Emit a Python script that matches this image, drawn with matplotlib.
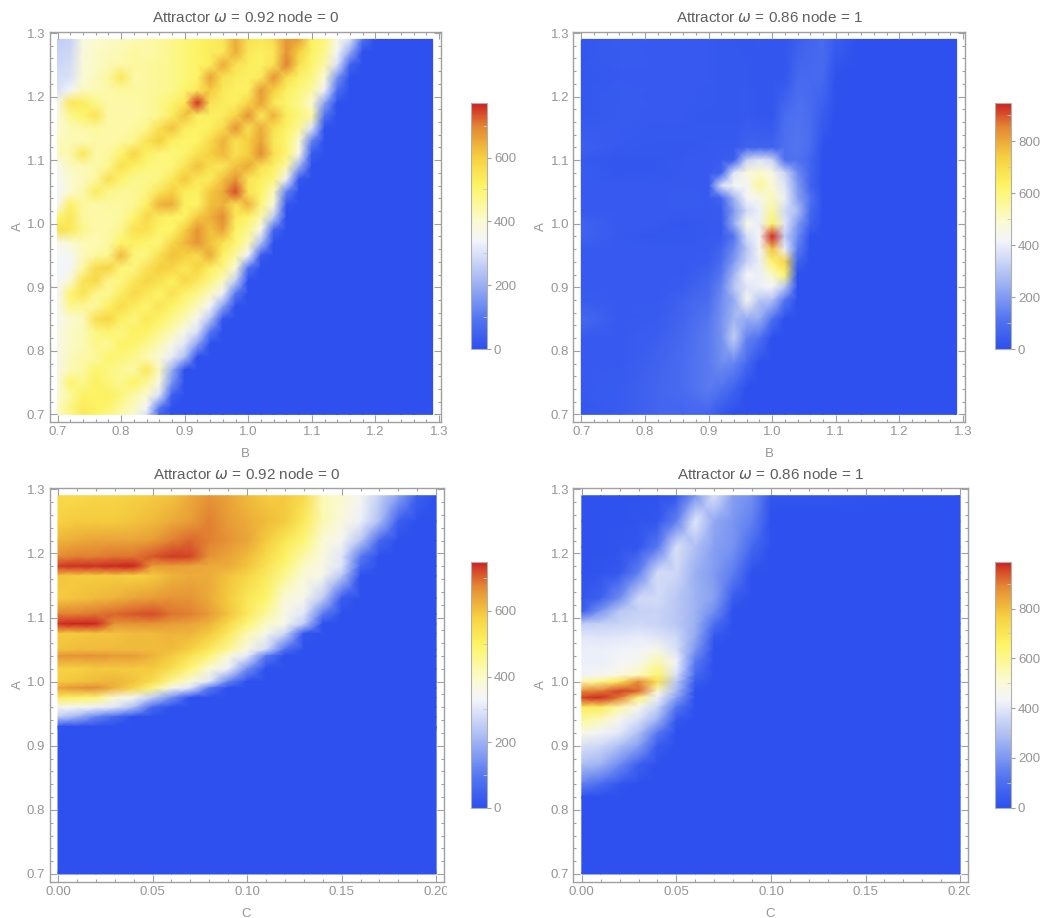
import numpy as np
import matplotlib
matplotlib.use('Agg')
import matplotlib.pyplot as plt
from matplotlib.colors import LinearSegmentedColormap
from matplotlib.patches import Rectangle
from matplotlib.ticker import MultipleLocator, FormatStrFormatter

plt.rcParams['font.family'] = ['Liberation Sans', 'DejaVu Sans']
plt.rcParams['mathtext.fontset'] = 'dejavusans'

# Columns and rows of the four maps (rows go from the top down)
b_top_left = [.70, .72, .74, .76, .78, .80, .82, .84, .86, .88, .90, .92, .94, .96, .98, 1.00, 1.02, 1.04, 1.06, 1.08,
              1.10, 1.12, 1.14, 1.16, 1.18, 1.20, 1.22, 1.24, 1.26, 1.29]
a_top_left = [1.29, 1.27, 1.25, 1.23, 1.21, 1.19, 1.17, 1.15, 1.13, 1.11, 1.09, 1.07, 1.05, 1.03, 1.01, .99, .97, .95,
              .93, .91, .89, .87, .85, .83, .81, .79, .77, .75, .73, .71, .70]
z_top_left = [
    [260, 270, 380, 400, 410, 420, 430, 440, 450, 470, 490, 510, 530, 540, 650, 560, 540, 570, 680, 660, 520, 490, 380, 300, 90],
    [270, 280, 380, 410, 420, 430, 450, 440, 450, 470, 490, 510, 530, 540, 650, 540, 520, 540, 680, 600, 510, 470, 340, 190],
    [280, 290, 390, 410, 430, 440, 450, 450, 460, 470, 490, 510, 530, 650, 560, 530, 520, 560, 700, 560, 500, 440, 300, 50],
    [290, 300, 390, 420, 450, 540, 440, 450, 460, 470, 490, 510, 660, 560, 530, 520, 540, 680, 570, 510, 480, 400, 150],
    [300, 340, 420, 430, 440, 450, 450, 450, 460, 470, 500, 540, 610, 540, 520, 520, 670, 600, 520, 490, 450, 330, 80],
    [360, 540, 530, 470, 440, 440, 440, 450, 470, 500, 540, 760, 560, 530, 520, 590, 660, 540, 500, 470, 400, 180],
    [380, 470, 500, 550, 440, 440, 440, 450, 470, 530, 620, 530, 520, 530, 590, 680, 540, 640, 530, 490, 450, 90],
    [400, 430, 440, 450, 440, 440, 450, 470, 560, 620, 530, 510, 520, 570, 680, 560, 650, 560, 510, 460, 300],
    [420, 430, 430, 440, 440, 450, 470, 550, 600, 520, 500, 510, 570, 640, 560, 600, 660, 540, 500, 400, 120],
    [420, 440, 540, 440, 450, 500, 590, 520, 490, 490, 500, 560, 600, 630, 560, 600, 690, 560, 500, 370, 30],
    [360, 420, 430, 440, 470, 560, 520, 490, 480, 490, 550, 620, 560, 540, 620, 650, 560, 520, 440, 200],
    [350, 400, 420, 450, 560, 500, 470, 470, 480, 540, 610, 540, 530, 620, 680, 550, 520, 490, 330, 20],
    [340, 400, 440, 530, 470, 460, 460, 480, 550, 600, 530, 520, 610, 650, 740, 550, 510, 420, 120],
    [350, 520, 450, 440, 450, 450, 460, 520, 640, 650, 520, 510, 620, 640, 560, 640, 490, 380, 20],
    [500, 540, 450, 440, 440, 450, 500, 580, 530, 510, 510, 610, 640, 690, 540, 510, 440, 250],
    [560, 540, 470, 440, 440, 470, 560, 560, 510, 500, 600, 680, 620, 660, 510, 470, 360, 60],
    [360, 400, 430, 430, 450, 500, 520, 500, 490, 580, 630, 680, 620, 560, 500, 430, 230],
    [340, 350, 420, 450, 470, 630, 490, 480, 560, 620, 600, 570, 650, 520, 450, 330, 30],
    [340, 340, 450, 570, 590, 490, 480, 550, 600, 590, 540, 590, 520, 480, 390, 90],
    [340, 400, 550, 580, 470, 480, 540, 590, 560, 520, 580, 540, 480, 420, 260],
    [340, 500, 550, 470, 460, 530, 580, 540, 510, 560, 510, 470, 420, 330, 100],
    [350, 470, 460, 450, 520, 570, 530, 500, 550, 510, 470, 420, 340, 180],
    [360, 400, 420, 560, 590, 520, 490, 540, 510, 470, 430, 350, 240, 20],
    [370, 410, 430, 480, 500, 480, 520, 510, 470, 430, 360, 300, 100],
    [370, 410, 430, 470, 460, 510, 500, 470, 430, 370, 310, 170],
    [370, 420, 440, 450, 500, 490, 470, 430, 390, 320, 230],
    [370, 430, 450, 500, 480, 460, 440, 540, 420, 200],
    [380, 500, 470, 520, 490, 470, 510, 460, 380, 150],
    [400, 450, 520, 510, 520, 490, 440, 400, 300, 40],
    [410, 480, 530, 520, 500, 450, 420, 340, 100],
    [410, 470, 540, 510, 480, 440, 400, 300, 60],
]

b_top_right = [.70, .76, .82, .86, .90, .92, .94, .96, .98, 1.00, 1.02, 1.04, 1.06, 1.08, 1.10, 1.14, 1.29]
a_top_right = [1.29, 1.23, 1.17, 1.12, 1.10, 1.08, 1.06, 1.04, 1.02, 1.00, .98, .96, .94, .92, .90, .88, .85, .82, .78, .74, .70]
z_top_right = [
    [20, 40, 30, 30, 30, 25, 25, 20, 25, 20, 20, 50, 70, 90, 40],
    [25, 30, 30, 30, 30, 25, 25, 25, 20, 20, 20, 80, 80, 80, 10],
    [25, 35, 30, 30, 25, 25, 25, 30, 20, 20, 90, 110, 90, 40],
    [50, 30, 25, 25, 30, 30, 30, 60, 60, 60, 100, 120, 90, 10],
    [30, 20, 20, 30, 30, 40, 50, 330, 380, 340, 100, 110, 70],
    [40, 20, 25, 30, 30, 60, 380, 470, 500, 450, 340, 170, 70],
    [30, 30, 30, 30, 30, 360, 430, 420, 560, 480, 380, 200, 60],
    [30, 30, 30, 40, 30, 70, 260, 420, 450, 520, 400, 220, 110],
    [30, 30, 30, 30, 30, 40, 200, 350, 400, 560, 350, 280, 80],
    [60, 30, 30, 20, 30, 30, 240, 450, 400, 620, 380, 200, 60],
    [60, 30, 25, 25, 30, 30, 120, 360, 420, 948, 320, 170],
    [30, 30, 30, 30, 30, 70, 160, 300, 420, 760, 400, 130],
    [30, 30, 30, 30, 40, 90, 200, 330, 400, 620, 720, 60],
    [30, 30, 30, 30, 60, 120, 260, 420, 400, 500, 620],
    [30, 30, 30, 40, 80, 150, 300, 380, 400, 420, 300],
    [40, 30, 30, 60, 90, 170, 240, 440, 300, 290, 120],
    [80, 30, 40, 70, 120, 180, 260, 240, 240, 100],
    [30, 30, 50, 80, 130, 180, 320, 150, 100],
    [30, 30, 60, 90, 130, 170, 150, 80],
    [30, 40, 70, 90, 130, 110, 60],
    [20, 40, 70, 70, 70, 20],
]

c_bottom_left = [0, .01, .02, .03, .04, .05, .06, .07, .08, .09, .10, .11, .12, .13, .14, .15, .16, .17, .18, .19, .20]
a_bottom_left = [1.29, 1.25, 1.22, 1.195, 1.18, 1.165, 1.13, 1.105, 1.09, 1.075, 1.05, 1.04, 1.02, 1.00, .99, .975, .96, .945, .93, .70]
z_bottom_left = [
    [560, 560, 570, 570, 580, 590, 600, 630, 660, 640, 610, 590, 590, 560, 420, 390, 340, 260, 170, 40],
    [580, 590, 590, 590, 600, 610, 630, 650, 680, 650, 630, 610, 590, 520, 420, 370, 320, 220, 40],
    [620, 630, 640, 640, 640, 650, 680, 700, 680, 660, 640, 590, 530, 480, 380, 340, 240, 60],
    [670, 680, 680, 690, 690, 710, 730, 725, 660, 640, 610, 560, 500, 430, 370, 300, 100],
    [730, 740, 740, 745, 750, 650, 650, 640, 630, 630, 600, 540, 480, 400, 360, 300, 60],
    [600, 590, 590, 590, 580, 590, 620, 630, 630, 600, 570, 520, 450, 380, 350, 240],
    [590, 600, 610, 620, 640, 650, 660, 660, 630, 590, 530, 490, 380, 350, 250, 30],
    [680, 680, 690, 700, 710, 720, 690, 680, 650, 600, 520, 440, 360, 300, 100],
    [740, 750, 745, 660, 660, 660, 650, 640, 620, 560, 480, 400, 350, 250],
    [590, 590, 600, 600, 610, 610, 620, 620, 590, 520, 420, 350, 270, 20],
    [600, 610, 610, 610, 610, 610, 610, 580, 520, 450, 360, 280, 80],
    [660, 660, 660, 650, 650, 620, 590, 540, 480, 370, 310, 100],
    [580, 580, 590, 590, 590, 590, 550, 480, 380, 320, 140],
    [590, 600, 610, 620, 600, 550, 450, 370, 300, 120],
    [640, 660, 670, 620, 570, 470, 350, 300, 100],
    [520, 500, 480, 380, 340, 250, 140],
    [340, 340, 320, 300, 220, 60],
    [250, 200, 120, 60],
    [0],
    [0],
]

c_bottom_right = [0, .01, .02, .03, .04, .05, .06, .07, .08, .09, .10, .20]
a_bottom_right = [1.29, 1.25, 1.21, 1.17, 1.13, 1.11, 1.09, 1.07, 1.05, 1.03, 1.01, 1.00, .985, .975, .96, .94, .92, .90, .87, .84, .82, .70]
z_bottom_right = [
    [10, 10, 10, 10, 10, 20, 200, 380, 220, 180, 20],
    [10, 10, 10, 15, 20, 150, 400, 240, 200, 150],
    [10, 10, 15, 20, 130, 380, 300, 220, 190, 80],
    [10, 15, 30, 150, 370, 360, 260, 210, 140],
    [20, 60, 180, 360, 370, 320, 270, 220, 40],
    [40, 200, 320, 340, 350, 320, 270, 180],
    [330, 340, 350, 360, 350, 320, 260, 100],
    [400, 390, 400, 410, 390, 360, 240, 30],
    [420, 420, 430, 430, 470, 380, 200],
    [420, 420, 440, 460, 560, 430, 130],
    [430, 450, 490, 540, 640, 380, 80],
    [560, 600, 700, 880, 720, 320, 40],
    [880, 900, 960, 920, 520, 280],
    [960, 980, 900, 620, 420, 220],
    [680, 680, 560, 460, 350, 120],
    [580, 540, 440, 380, 260, 30],
    [480, 430, 400, 300, 130],
    [380, 360, 300, 220, 40],
    [290, 260, 170, 50],
    [150, 90, 20],
    [0],
    [0],
]

# Colour bar tops
z_max = [771, 948, 750, 988]

titles = [r'Attractor $\omega$ = 0.92 node = 0', r'Attractor $\omega$ = 0.86 node = 1',
          r'Attractor $\omega$ = 0.92 node = 0', r'Attractor $\omega$ = 0.86 node = 1']

cmap = LinearSegmentedColormap.from_list('temp', [
    (0.0, '#2d50ee'), (0.12, '#5274f0'), (0.28, '#a5b8f2'), (0.44, '#f4f5fa'),
    (0.52, '#fbfad0'), (0.66, '#fdf566'), (0.78, '#f6d040'), (0.90, '#e38a34'),
    (1.0, '#cc2222')])

W, H = 1041, 918
FRAME = '#a0a0a0'
TEXT = '#959595'


def pad(rows, n):
    return np.array([r + [0] * (n - len(r)) for r in rows], dtype=float)


def px_axes(fig, left, top, right, bottom):
    return fig.add_axes([left / W, 1 - bottom / H, (right - left) / W, (bottom - top) / H])


def panel(fig, box, bar, xs, ys, rows, zmax, title, xlabel, xlim, ylim, xmajor, xminor, fmt, title_gap):
    ax = px_axes(fig, *box)
    z = pad(rows, len(xs))
    mesh = ax.pcolormesh(xs, ys, z, shading='gouraud', cmap=cmap, vmin=0, vmax=zmax, rasterized=True)
    ax.set_xlim(*xlim)
    ax.set_ylim(*ylim)
    ax.xaxis.set_major_locator(MultipleLocator(xmajor))
    ax.xaxis.set_minor_locator(MultipleLocator(xminor))
    ax.yaxis.set_major_locator(MultipleLocator(0.1))
    ax.yaxis.set_minor_locator(MultipleLocator(0.02))
    ax.xaxis.set_major_formatter(FormatStrFormatter(fmt))
    ax.yaxis.set_major_formatter(FormatStrFormatter('%.1f'))
    ax.tick_params(which='both', direction='in', top=True, right=True, color=FRAME, width=0.8)
    ax.tick_params(which='major', length=5, labelsize=9.5, labelcolor=TEXT, pad=3)
    ax.tick_params(which='minor', length=2.5)
    for s in ax.spines.values():
        s.set_color(FRAME)
        s.set_linewidth(1.0)
    cx = (box[0] + box[2]) / 2 / W
    fig.text(cx, 1 - (box[1] - title_gap) / H, title, ha='center', va='center', fontsize=11, color='#5f5f5f')
    fig.text(cx, 1 - (box[3] + 32) / H, xlabel, ha='center', va='center', fontsize=9.5, color=TEXT)
    fig.text((box[0] - 32) / W, 1 - (box[1] + box[3]) / 2 / H, 'A', ha='center', va='center',
             rotation=90, fontsize=9.5, color=TEXT)

    cax = px_axes(fig, *bar)
    cb = fig.colorbar(mesh, cax=cax)
    cb.set_ticks(np.arange(0, zmax, 200))
    cb.set_ticks(np.arange(100, zmax, 200), minor=True)
    cb.ax.tick_params(which='major', direction='out', length=3, color=FRAME, width=0.8,
                      labelsize=9.5, labelcolor=TEXT, pad=2)
    cb.ax.tick_params(which='minor', direction='in', length=3, color='#c8c8c8', width=0.6)
    cb.outline.set_edgecolor('#b0b0b0')
    cb.outline.set_linewidth(0.8)


fig = plt.figure(figsize=(W / 100, H / 100), dpi=100)

ylim_top = (0.688, 1.3016)
ylim_bot = (0.6875, 1.3025)

panel(fig, (49.5, 32, 440.7, 422), (470.7, 103, 487, 349), b_top_left, a_top_left, z_top_left, z_max[0],
      titles[0], 'B', (0.6874, 1.3027), ylim_top, 0.1, 0.02, '%.1f', 15)
panel(fig, (573.3, 32, 964.7, 422), (994.7, 103, 1011, 349), b_top_right, a_top_right, z_top_right, z_max[1],
      titles[1], 'B', (0.6874, 1.3027), ylim_top, 0.1, 0.02, '%.1f', 15)
panel(fig, (49.5, 487.7, 443.7, 882), (470.7, 561.7, 487, 807.7), c_bottom_left, a_bottom_left, z_bottom_left, z_max[2],
      titles[2], 'C', (-0.0045, 0.204), ylim_bot, 0.05, 0.01, '%.2f', 13.7)
panel(fig, (573.3, 487.7, 967.7, 882), (994.7, 561.7, 1011, 807.7), c_bottom_right, a_bottom_right, z_bottom_right, z_max[3],
      titles[3], 'C', (-0.0045, 0.204), ylim_bot, 0.05, 0.01, '%.2f', 13.7)

# the last x labels are cut off in the original picture
for x0, x1 in [(447, 470), (970, 990)]:
    fig.add_artist(Rectangle((x0 / W, 1 - 900 / H), (x1 - x0) / W, 25 / H, transform=fig.transFigure,
                             color='white', zorder=20))

fig.savefig('out.png', dpi=100)
